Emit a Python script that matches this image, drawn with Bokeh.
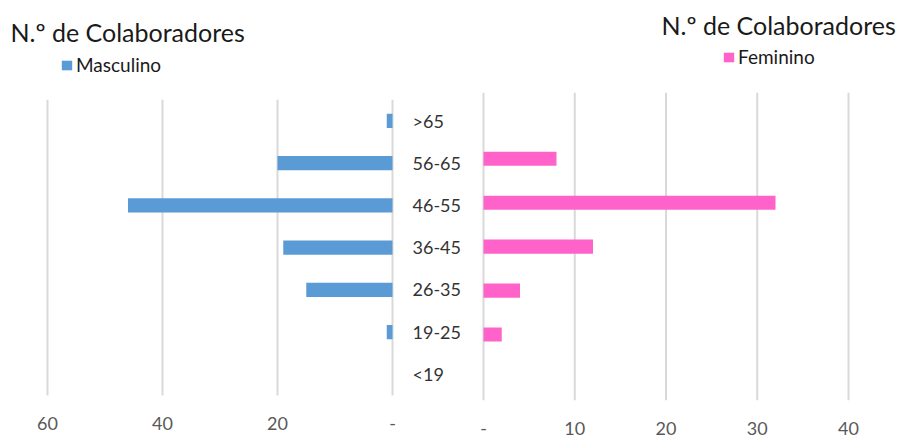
from bokeh.plotting import figure
from bokeh.layouts import row
from bokeh.models import Range1d, Legend, LegendItem, FixedTicker, Label
from bokeh.core.properties import value
from bokeh.embed import file_html
from bokeh.resources import INLINE

# Number of employees per age group, by gender
age_groups = [">65", "56-65", "46-55", "36-45", "26-35", "19-25", "<19"]
masculino = [1, 20, 46, 19, 15, 1, 0]
feminino = [0, 8, 32, 12, 4, 2, 0]
left_ticks = [0, 20, 40, 60]
right_ticks = [0, 10, 20, 30, 40]
title_text = "N.º de Colaboradores"

FONT = "Lato"
BLUE = "#5B9BD5"
PINK = "#FF63CA"
GRID = "#D9D9D9"

n = len(age_groups)
# row index, counted from the bottom so that ">65" ends up on top
rows = [n - 1 - i for i in range(n)]

H = 437
AXIS_H = 34            # room below the frame for the value labels
FRAME_H = H - AXIS_H


def base_figure(width, x_range, y_range):
    p = figure(width=width, height=H, x_range=x_range, y_range=y_range,
               min_border_left=0, min_border_right=0, min_border_top=0,
               min_border_bottom=AXIS_H, y_axis_location=None,
               output_backend="svg", toolbar_location=None)
    p.outline_line_color = None
    p.grid.visible = False
    return p


def style_xaxis(p, ticks, standoff):
    ax = p.xaxis
    ax.ticker = FixedTicker(ticks=ticks)
    ax.major_label_overrides = {0: "-"}
    ax.axis_line_color = None
    ax.major_tick_line_color = None
    ax.minor_tick_line_color = None
    ax.major_tick_out = 0
    ax.major_label_standoff = standoff
    ax.major_label_text_font = FONT
    ax.major_label_text_font_size = "18px"
    ax.major_label_text_color = "#595959"


def add_title(p, x, y):
    p.add_layout(Label(x=x, y=y, x_units="screen", y_units="screen",
                       text=title_text, text_font=FONT, text_font_size="25px",
                       text_color="#1A1A1A", text_baseline="alphabetic"))


def add_legend(p, label, renderer, loc):
    p.add_layout(Legend(items=[LegendItem(label=label, renderers=[renderer])],
                        location=loc, orientation="horizontal",
                        margin=0, padding=0, spacing=0,
                        glyph_width=13, glyph_height=12, label_standoff=3,
                        label_text_font=FONT, label_text_font_size="19px",
                        label_text_color="#1A1A1A", label_height=20,
                        border_line_color=None, background_fill_alpha=0))


# ---- Masculino (reversed x axis) ----
L_W = 470
L_X0, L_X60 = 392, 47          # pixel columns of 0 and 60
L_PX = (L_X0 - L_X60) / 60.0
L_TOP, L_BOT = 100, 398         # category band
L_ROW = (L_BOT - L_TOP) / n
left = base_figure(
    L_W,
    Range1d(60 + L_X60 / L_PX, -(L_W - L_X0) / L_PX),
    Range1d(-0.5 - (FRAME_H - L_BOT) / L_ROW, -0.5 + L_BOT / L_ROW),
)
left.segment(x0=left_ticks, y0=-0.5, x1=left_ticks, y1=n - 0.5,
             line_color=GRID, line_width=2)
r_m = left.hbar(y=rows, left=0, right=masculino, height=0.34,
                fill_color=BLUE, line_color=None)
left.text(x=0, y=rows, text=age_groups, x_offset=20,
          text_font=value(FONT), text_font_size="18px", text_color="#333333",
          text_align="left", text_baseline="middle")
style_xaxis(left, left_ticks, 16)
add_title(left, 10, FRAME_H - 34)
add_legend(left, "Masculino", r_m, (60, FRAME_H - 79))

# ---- Feminino ----
R_W = 906 - L_W
R_X0, R_X40 = 483 - L_W, 848 - L_W
R_PX = (R_X40 - R_X0) / 40.0
R_TOP, R_BOT = 93, 403
R_ROW = (R_BOT - R_TOP) / n
right = base_figure(
    R_W,
    Range1d(-R_X0 / R_PX, 40 + (R_W - R_X40) / R_PX),
    Range1d(-0.5 - (FRAME_H - R_BOT) / R_ROW, -0.5 + R_BOT / R_ROW),
)
right.segment(x0=right_ticks, y0=-0.5, x1=right_ticks, y1=n - 0.5,
              line_color=GRID, line_width=2)
r_f = right.hbar(y=rows, left=0, right=feminino, height=0.32,
                 fill_color=PINK, line_color=None)
style_xaxis(right, right_ticks, 21)
add_title(right, 661 - L_W, FRAME_H - 27)
add_legend(right, "Feminino", r_f, (722 - L_W, FRAME_H - 71))

layout = row(left, right)

with open("out.html", "w") as f:
    f.write(file_html(layout, INLINE))
